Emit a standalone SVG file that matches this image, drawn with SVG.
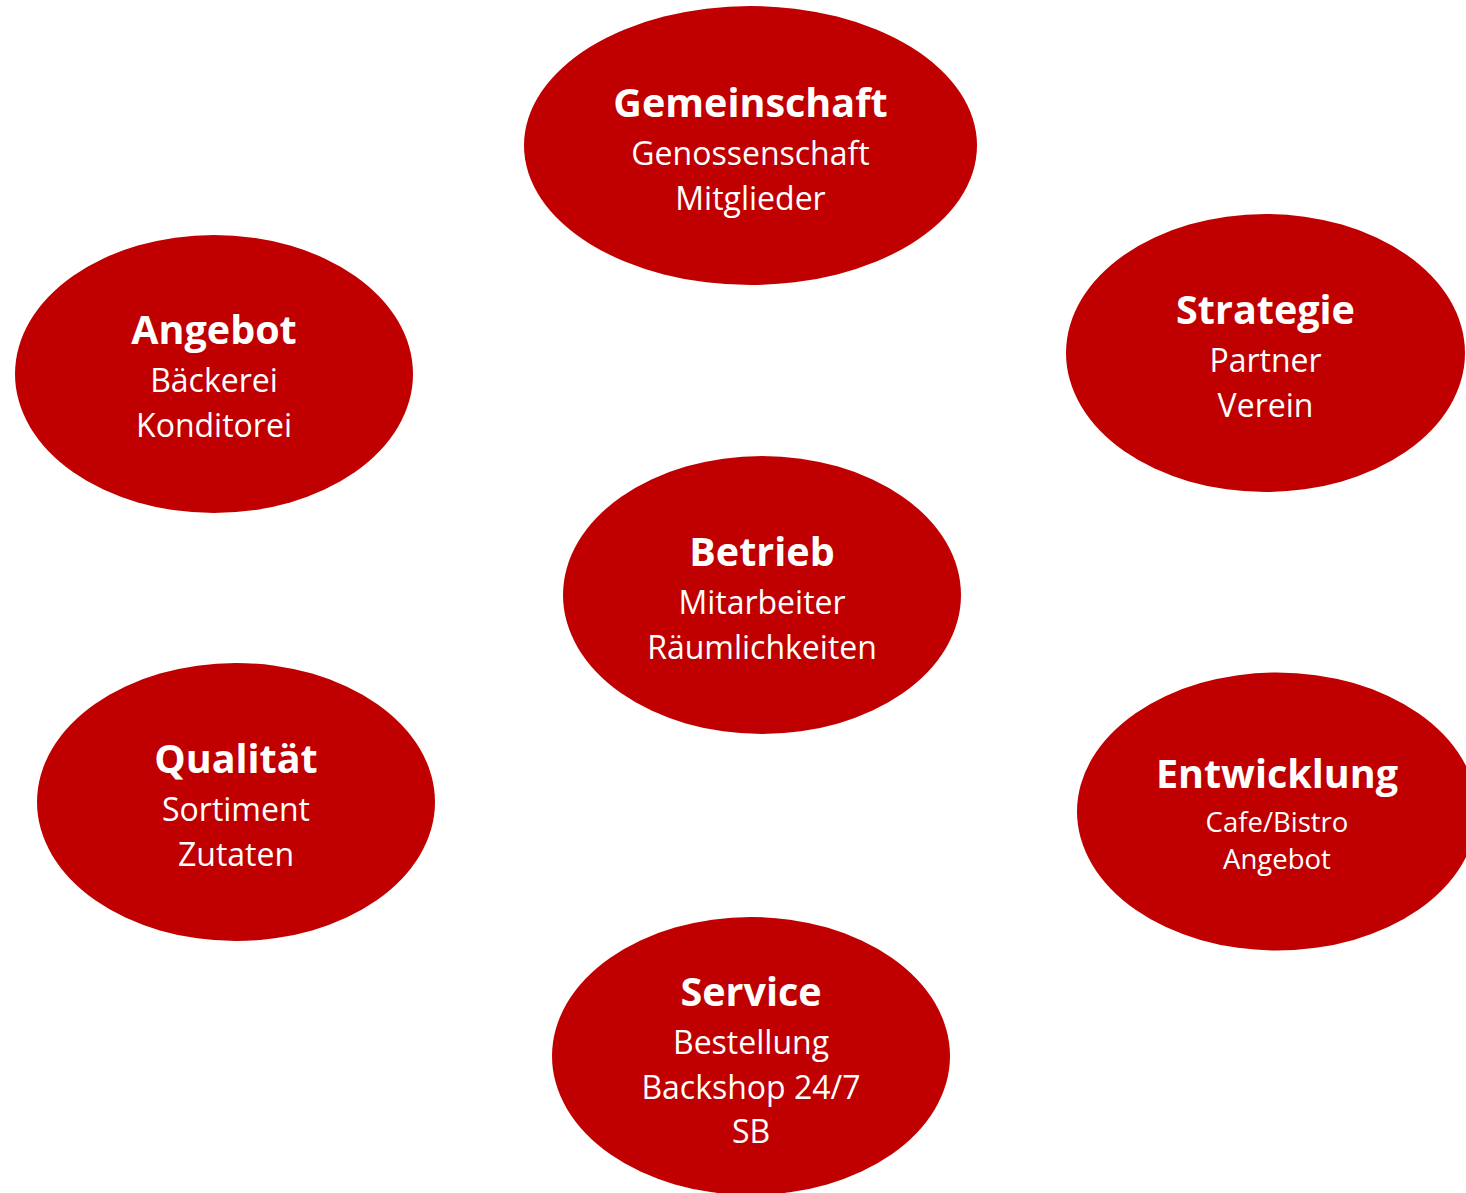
<svg xmlns="http://www.w3.org/2000/svg" width="1466" height="1193" viewBox="0 0 1466 1193">
<style>
.n{fill:#C00000}
text{font-family:"Open Sans","Noto Sans","Liberation Sans",sans-serif;fill:#fff;text-anchor:middle}
.t{font-size:39.5px;font-weight:bold}
.s{font-size:32px}
.ss{font-size:27.5px}
</style>
<rect width="1466" height="1193" fill="#fff"/>
<g id="connectors"></g>
<g id="gemeinschaft">
<ellipse class="n" cx="750.5" cy="145.5" rx="226.5" ry="139.5"/>
<text class="t" x="750.5" y="117">Gemeinschaft</text>
<text class="s" x="750.5" y="165">Genossenschaft</text>
<text class="s" x="750.5" y="210">Mitglieder</text>
</g>
<g id="angebot">
<ellipse class="n" cx="214" cy="374" rx="199" ry="139"/>
<text class="t" x="214" y="344">Angebot</text>
<text class="s" x="214" y="392">Bäckerei</text>
<text class="s" x="214" y="437">Konditorei</text>
</g>
<g id="strategie">
<ellipse class="n" cx="1265.5" cy="353" rx="199.5" ry="139"/>
<text class="t" x="1265.5" y="324">Strategie</text>
<text class="s" x="1265.5" y="372">Partner</text>
<text class="s" x="1265.5" y="417">Verein</text>
</g>
<g id="betrieb">
<ellipse class="n" cx="762" cy="595" rx="199" ry="139"/>
<text class="t" x="762" y="566">Betrieb</text>
<text class="s" x="762" y="614">Mitarbeiter</text>
<text class="s" x="762" y="659">Räumlichkeiten</text>
</g>
<g id="qualitaet">
<ellipse class="n" cx="236" cy="802" rx="199" ry="139"/>
<text class="t" x="236" y="773">Qualität</text>
<text class="s" x="236" y="821">Sortiment</text>
<text class="s" x="236" y="866">Zutaten</text>
</g>
<g id="entwicklung">
<ellipse class="n" cx="1277" cy="811.5" rx="200" ry="139"/>
<text class="t" x="1277" y="788">Entwicklung</text>
<text class="ss" x="1277" y="832">Cafe/Bistro</text>
<text class="ss" x="1277" y="869">Angebot</text>
</g>
<g id="service">
<ellipse class="n" cx="751" cy="1056" rx="199" ry="139"/>
<text class="t" x="751" y="1006">Service</text>
<text class="s" x="751" y="1054">Bestellung</text>
<text class="s" x="751" y="1099">Backshop 24/7</text>
<text class="s" x="751" y="1143">SB</text>
</g>
</svg>
